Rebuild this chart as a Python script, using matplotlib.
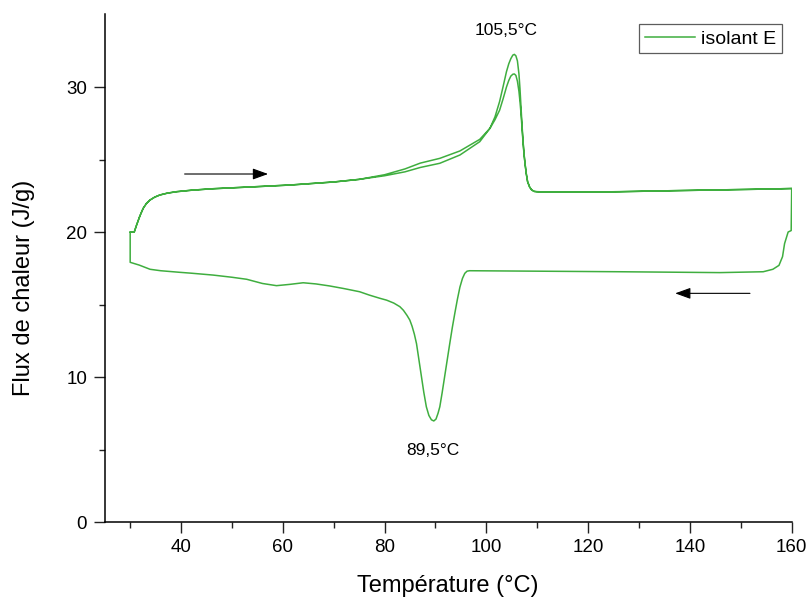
import numpy as np
import matplotlib
matplotlib.use("Agg")
import matplotlib.pyplot as plt
from matplotlib.ticker import FixedLocator

plt.rcParams['font.family'] = ['Liberation Sans', 'DejaVu Sans']

# ---- data (isolant E) ----
# heating ramps (two runs share the same temperature grid)
heat_T = [30.0, 30.8, 31.26, 31.9, 32.55, 33.2, 33.87, 34.8, 35.8, 37.3, 39.1,
          42, 46, 50, 55, 61.4, 66, 70, 75, 80, 84, 87, 90.85, 94.8, 98.7,
          100.7, 101.7, 102.6, 103.3, 103.95, 104.4, 104.8, 105.2, 105.5,
          105.8, 106.1, 106.4, 106.6, 106.8, 107.0, 107.2, 107.4, 107.6,
          107.85, 108.1, 108.5, 108.9, 109.4, 109.9, 112.5, 120, 126.2, 135,
          145, 155, 160]
heat1_F = [20.0, 20.0, 20.48, 21.1, 21.63, 21.97, 22.2, 22.4, 22.55, 22.68, 22.78,
           22.88, 22.98, 23.05, 23.13, 23.24, 23.35, 23.45, 23.63, 23.88, 24.15,
           24.45, 24.74, 25.31, 26.23,
           27.15, 27.95, 29.0, 30.05, 31.06, 31.6, 31.95, 32.2, 32.25,
           32.15, 31.8, 30.9, 29.9, 28.6, 27.4, 26.3, 25.4, 24.7,
           24.0, 23.47, 23.1, 22.9, 22.8, 22.78, 22.76, 22.76, 22.78, 22.84,
           22.9, 22.96, 23.0]
heat2_F = [20.0, 20.0, 20.48, 21.1, 21.63, 21.97, 22.2, 22.4, 22.55, 22.68, 22.78,
           22.88, 22.98, 23.05, 23.13, 23.24, 23.35, 23.45, 23.63, 23.95, 24.35,
           24.75, 25.08, 25.59, 26.39,
           27.15, 27.75, 28.4, 29.2, 30.0, 30.45, 30.75, 30.88, 30.9,
           30.8, 30.4, 29.7, 29.0, 28.2, 27.2, 26.2, 25.35, 24.7,
           24.0, 23.47, 23.1, 22.9, 22.8, 22.78, 22.76, 22.76, 22.78, 22.84,
           22.9, 22.96, 23.0]

# cooling ramp (160 -> 30)
cool_T = [160.0, 159.9, 159.3, 158.6, 158.2, 157.5, 156.3, 154.4, 145.9, 126.2,
          110, 100, 96.7, 96.2, 95.76, 95.3, 94.8, 94.3, 93.8, 93.3, 92.8,
          92.3, 91.8, 91.3, 90.85, 90.5, 90.1, 89.67, 89.2, 88.7, 88.2, 87.7,
          87.25, 86.75, 86.27, 85.85, 85.4, 84.95, 84.4, 83.7, 83.0, 81.8,
          80.4, 79.06, 77, 75.1, 72, 69.2, 66.5, 64.0, 61.4, 58.76, 56, 52.9,
          50, 46.3, 42, 39.76, 36, 33.9, 31.77, 30.0, 30.0]
cool_F = [23.0, 20.1, 20.0, 19.2, 18.3, 17.7, 17.43, 17.26, 17.2, 17.26,
          17.3, 17.33, 17.33, 17.3, 17.15, 16.8, 16.2, 15.35, 14.4, 13.4, 12.3,
          11.15, 10.0, 8.9, 7.95, 7.5, 7.1, 6.97, 7.05, 7.35, 7.95, 8.95,
          10.0, 11.2, 12.3, 12.95, 13.5, 13.93, 14.25, 14.6, 14.85, 15.1,
          15.3, 15.43, 15.65, 15.88, 16.1, 16.28, 16.42, 16.5, 16.39, 16.3,
          16.45, 16.74, 16.88, 17.03, 17.16, 17.22, 17.33, 17.43, 17.72,
          17.91, 20.0]

# one continuous trace: heating 1 -> cooling -> heating 2
T = np.concatenate([heat_T, cool_T, heat_T])
F = np.concatenate([heat1_F, cool_F, heat2_F])

# ---- figure ----
fig = plt.figure(figsize=(8.1, 5.99), dpi=100)
ax = fig.add_axes([0.1293, 0.1285, 0.8481, 0.8473])

ax.plot(T, F, color='#3fae3f', lw=1.1, label='isolant E')

ax.set_xlim(25, 160)
ax.set_ylim(0, 35)
ax.set_xticks([40, 60, 80, 100, 120, 140, 160])
ax.set_yticks([0, 10, 20, 30])
ax.xaxis.set_minor_locator(FixedLocator([30, 50, 70, 90, 110, 130, 150]))
ax.yaxis.set_minor_locator(FixedLocator([5, 15, 25]))

for s in ['top', 'right']:
    ax.spines[s].set_visible(False)
for s in ['left', 'bottom']:
    ax.spines[s].set_linewidth(1.1)

ax.tick_params(which='major', direction='out', length=7.7, width=1.0,
               labelsize=13.5, color='#222222')
ax.tick_params(which='minor', direction='out', length=4.1, width=1.0,
               color='#222222')
ax.tick_params(axis='x', which='major', pad=4.5)
ax.tick_params(axis='y', which='major', pad=5)

ax.set_xlabel('Température (°C)', fontsize=17)
ax.set_ylabel('Flux de chaleur (J/g)', fontsize=17)
ax.xaxis.set_label_coords(0.5, -0.104)
ax.yaxis.set_label_coords(-0.101, 0.462)

# peak labels
ax.text(103.9, 33.6, '105,5°C', fontsize=12.5, ha='center', va='baseline')
ax.text(89.4, 4.62, '89,5°C', fontsize=12.5, ha='center', va='baseline')

# direction arrows
arrow = dict(arrowstyle='-|>,head_length=0.47,head_width=0.17', color='black',
             lw=0.8, shrinkA=0, shrinkB=0, mutation_scale=20)
ax.annotate('', xy=(57.1, 24.0), xytext=(40.7, 24.0), arrowprops=arrow)
ax.annotate('', xy=(137.1, 15.77), xytext=(151.8, 15.77), arrowprops=arrow)

leg = ax.legend(loc='upper right', fontsize=14, frameon=True, fancybox=False,
                handlelength=2.6, handletextpad=0.3, borderpad=0.3,
                borderaxespad=0.5)
leg.get_frame().set_edgecolor('#333333')
leg.get_frame().set_linewidth(0.9)

fig.savefig('out.png', dpi=100)
